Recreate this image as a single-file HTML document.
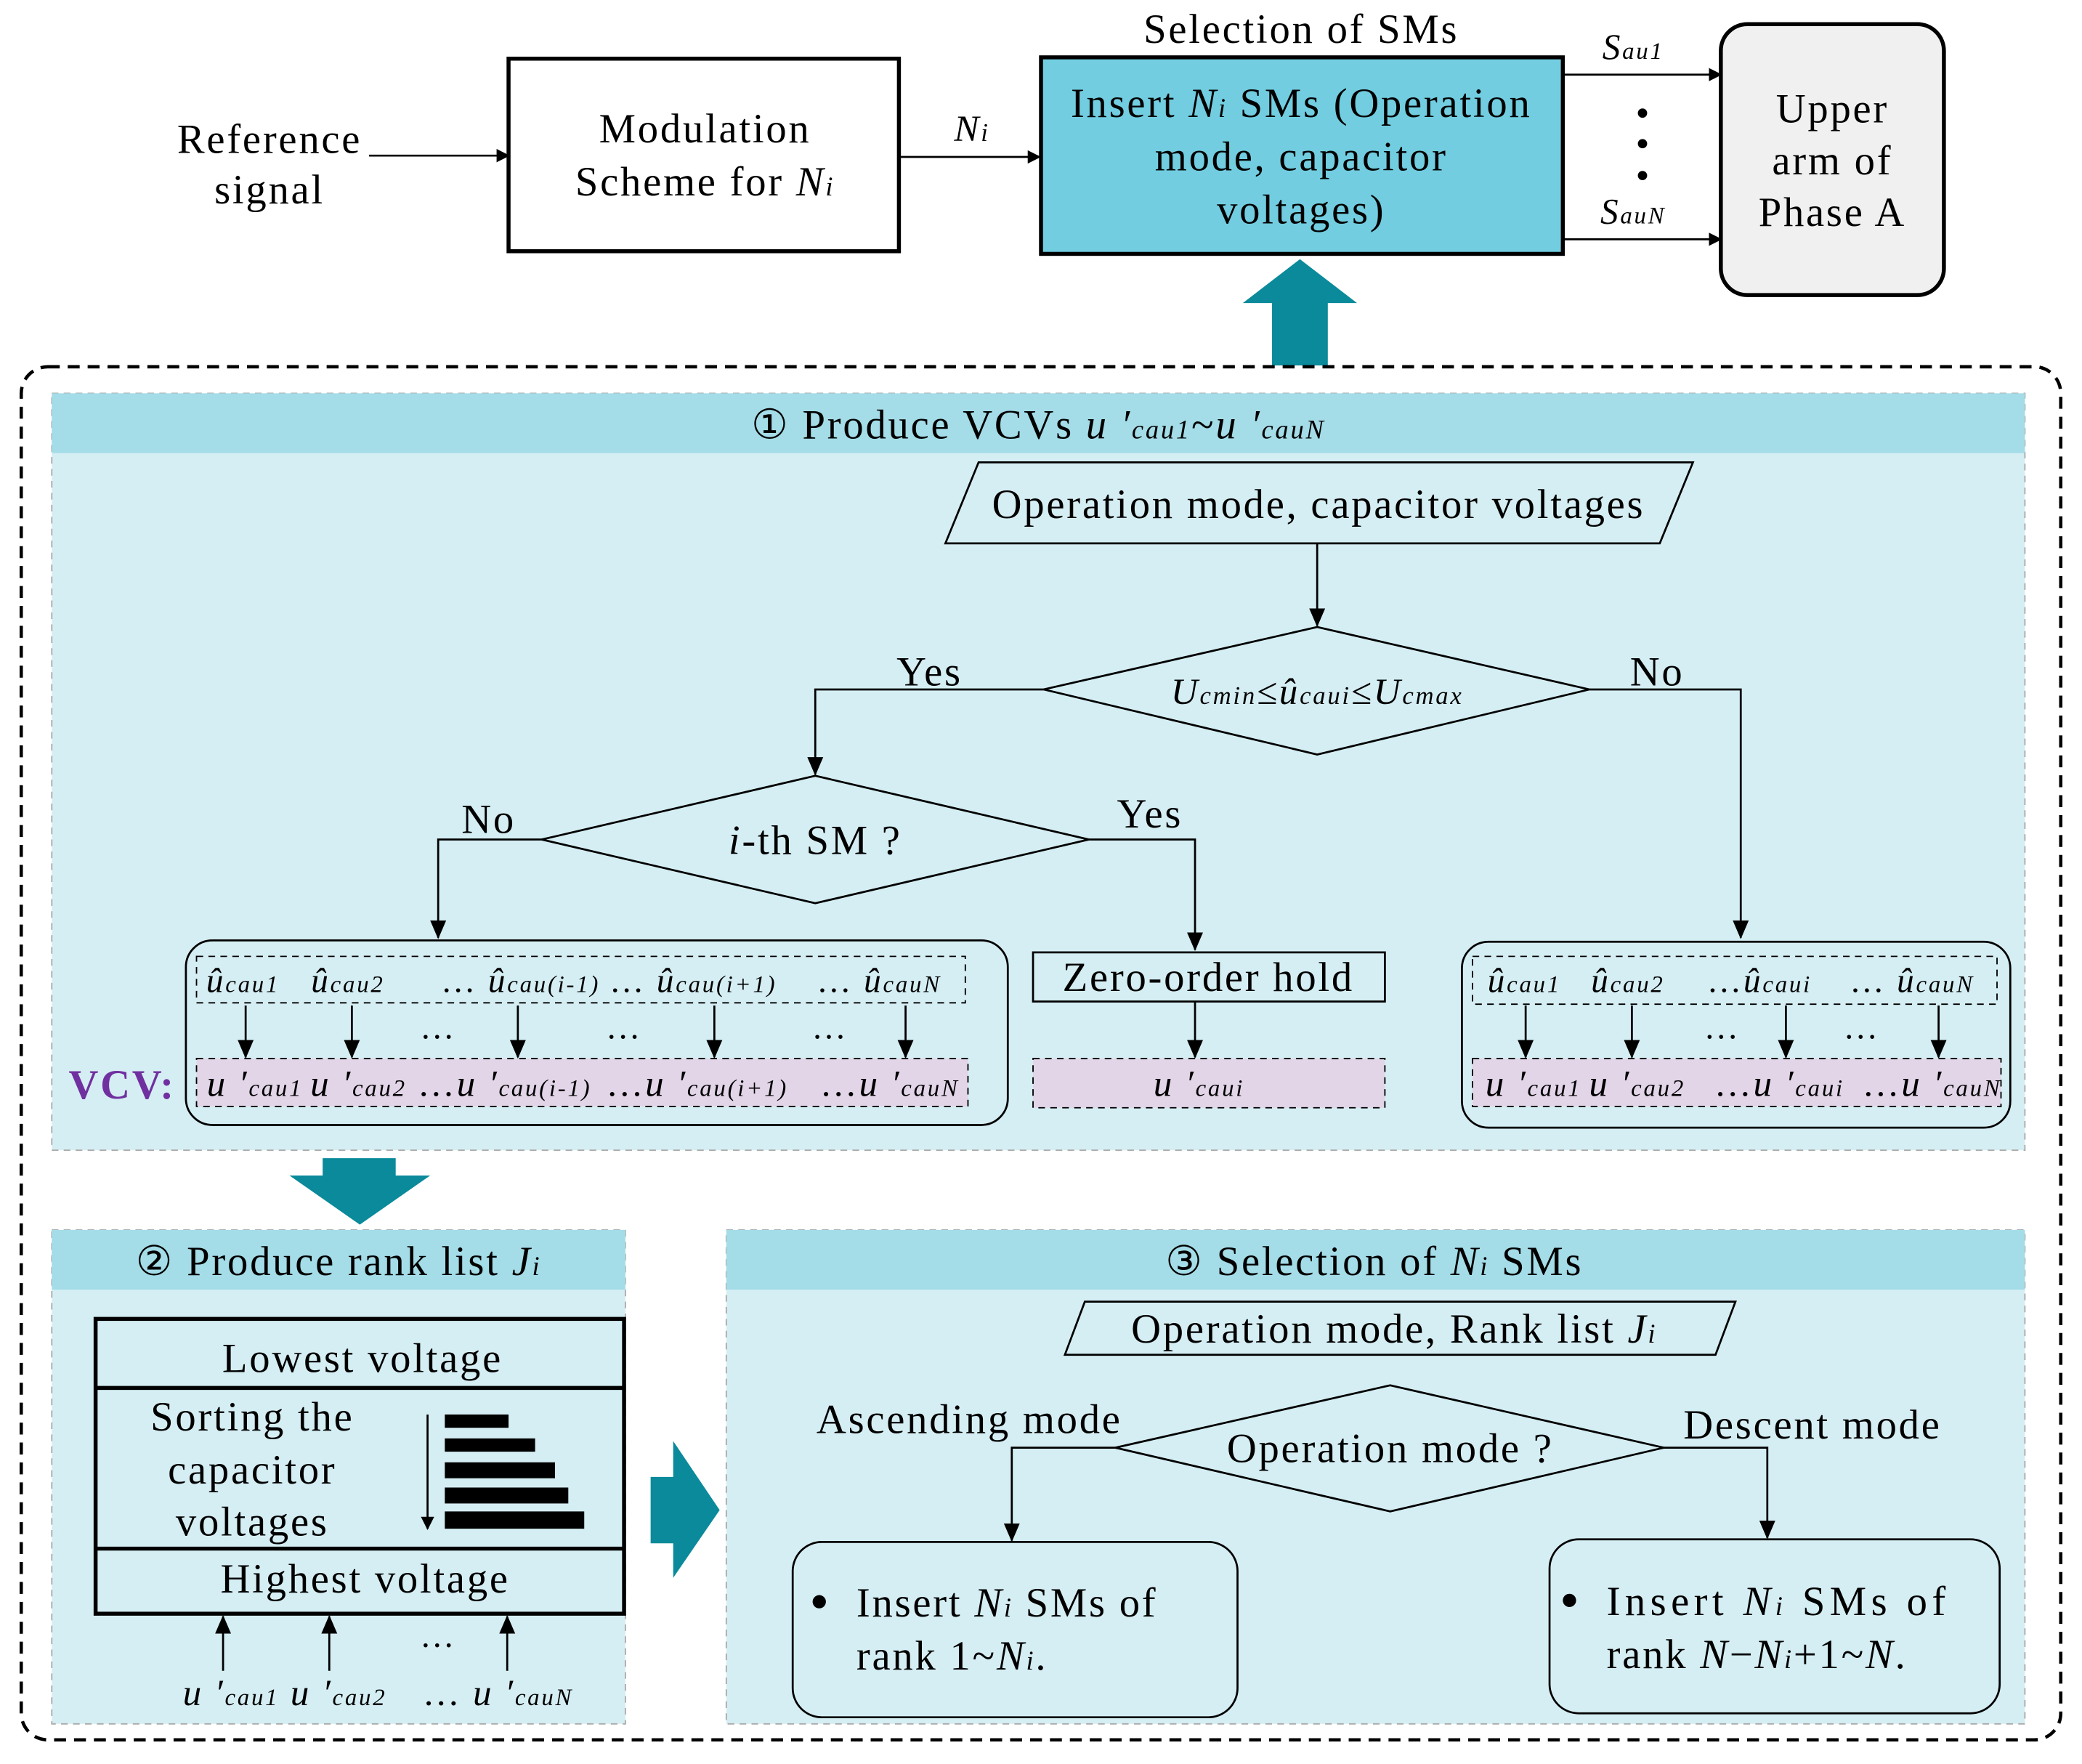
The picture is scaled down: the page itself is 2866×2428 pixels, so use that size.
<!DOCTYPE html>
<html><head><meta charset="utf-8"><style>
html,body{margin:0;padding:0;background:#fff}
svg{display:block}
text{font-family:"Liberation Serif",serif;fill:#000;letter-spacing:1.5px}
</style></head><body>
<svg width="2866" height="2428" viewBox="0 0 1568 1328" xmlns="http://www.w3.org/2000/svg">
<defs>
<marker id="a" markerWidth="10" markerHeight="10" refX="9" refY="5" orient="auto" markerUnits="userSpaceOnUse" viewBox="0 0 10 10"><path d="M0,0 L10,5 L0,10 Z" fill="#000"/></marker>
<marker id="b" markerWidth="14" markerHeight="14" refX="13" refY="7" orient="auto" markerUnits="userSpaceOnUse" viewBox="0 0 14 14"><path d="M0,1 L14,7 L0,13 Z" fill="#000"/></marker>
</defs>
<g font-size="31" text-anchor="middle">
<!-- top -->
<text x="203" y="115">Reference</text><text x="203" y="153">signal</text>
<line x1="278" y1="117" x2="383" y2="117" stroke="#000" stroke-width="1.5" marker-end="url(#a)"/>
<rect x="383" y="44" width="294" height="145" fill="#fff" stroke="#000" stroke-width="3"/>
<text x="531" y="107">Modulation</text>
<text x="531" y="147">Scheme for <tspan font-style="italic">N</tspan><tspan font-size="20" font-style="italic">i</tspan></text>
<line x1="677" y1="118" x2="783" y2="118" stroke="#000" stroke-width="1.5" marker-end="url(#a)"/>
<text x="732" y="106" font-style="italic" font-size="28">N<tspan font-size="19">i</tspan></text>
<text x="980" y="32">Selection of SMs</text>
<rect x="784" y="43" width="393" height="148" fill="#72cde0" stroke="#000" stroke-width="3"/>
<text x="980" y="88">Insert <tspan font-style="italic">N</tspan><tspan font-size="20" font-style="italic">i</tspan> SMs (Operation</text>
<text x="980" y="128">mode, capacitor</text>
<text x="980" y="168">voltages)</text>
<line x1="1177" y1="56" x2="1296" y2="56" stroke="#000" stroke-width="1.5" marker-end="url(#a)"/>
<line x1="1177" y1="180" x2="1296" y2="180" stroke="#000" stroke-width="1.5" marker-end="url(#a)"/>
<text x="1230" y="44" font-size="27" font-style="italic">S<tspan font-size="18">au1</tspan></text>
<text x="1230" y="168" font-size="27" font-style="italic">S<tspan font-size="18">auN</tspan></text>
<circle cx="1237" cy="85" r="3.5"/><circle cx="1237" cy="108" r="3.5"/><circle cx="1237" cy="132" r="3.5"/>
<rect x="1296" y="18" width="168" height="204" rx="20" fill="#f0f0f0" stroke="#000" stroke-width="3"/>
<text x="1380" y="92">Upper</text><text x="1380" y="131">arm of</text><text x="1380" y="170">Phase A</text>
<path d="M958,275 L958,228 L936,228 L979,195 L1022,228 L1000,228 L1000,275 Z" fill="#0a8a9a"/>
<rect x="16" y="276" width="1536" height="1034" rx="20" fill="none" stroke="#000" stroke-width="2.5" stroke-dasharray="9,6"/>

<!-- section 1 -->
<rect x="39" y="296" width="1486" height="570" fill="#d5eef3" stroke="#aaa" stroke-dasharray="5,4"/>
<rect x="39" y="296" width="1486" height="45" fill="#a4dce8"/>
<text x="782" y="330">① Produce VCVs <tspan font-style="italic">u ′</tspan><tspan font-style="italic" font-size="20">cau1</tspan>~<tspan font-style="italic">u ′</tspan><tspan font-style="italic" font-size="20">cauN</tspan></text>
<polygon points="737,348 1275,348 1250,409 712,409" fill="none" stroke="#000" stroke-width="1.5"/>
<text x="993" y="390">Operation mode, capacitor voltages</text>
<line x1="992" y1="409" x2="992" y2="471" stroke="#000" stroke-width="1.5" marker-end="url(#b)"/>
<polygon points="786,519 992,472 1197,519 992,568" fill="none" stroke="#000" stroke-width="1.5"/>
<text x="992" y="530" font-size="28" font-style="italic">U<tspan font-size="19">cmin</tspan>≤û<tspan font-size="19">caui</tspan>≤U<tspan font-size="19">cmax</tspan></text>
<polyline points="786,519 614,519 614,583" fill="none" stroke="#000" stroke-width="1.5" marker-end="url(#b)"/>
<text x="700" y="516">Yes</text>
<polyline points="1197,519 1311,519 1311,706" fill="none" stroke="#000" stroke-width="1.5" marker-end="url(#b)"/>
<text x="1248" y="516">No</text>
<polygon points="408,632 614,584 820,632 614,680" fill="none" stroke="#000" stroke-width="1.5"/>
<text x="614" y="643"><tspan font-style="italic">i</tspan>-th SM ?</text>
<polyline points="408,632 330,632 330,706" fill="none" stroke="#000" stroke-width="1.5" marker-end="url(#b)"/>
<text x="368" y="627">No</text>
<polyline points="820,632 900,632 900,715" fill="none" stroke="#000" stroke-width="1.5" marker-end="url(#b)"/>
<text x="866" y="623">Yes</text>

<rect x="140" y="708" width="619" height="139" rx="20" fill="none" stroke="#000" stroke-width="1.5"/>
<rect x="148" y="720" width="579" height="35" fill="none" stroke="#000" stroke-dasharray="5,4"/>
<g font-size="26" font-style="italic" style="letter-spacing:0.5px">
<text x="183" y="747">û<tspan font-size="18">cau1</tspan></text>
<text x="262" y="747">û<tspan font-size="18">cau2</tspan></text>
<text x="392" y="747"><tspan font-style="normal">… </tspan>û<tspan font-size="18">cau(i-1)</tspan></text>
<text x="522" y="747"><tspan font-style="normal">… </tspan>û<tspan font-size="18">cau(i+1)</tspan></text>
<text x="662" y="747"><tspan font-style="normal">… </tspan>û<tspan font-size="18">cauN</tspan></text>
</g>
<g stroke="#000" stroke-width="1.5">
<line x1="185" y1="757" x2="185" y2="796" marker-end="url(#b)"/>
<line x1="265" y1="757" x2="265" y2="796" marker-end="url(#b)"/>
<line x1="390" y1="757" x2="390" y2="796" marker-end="url(#b)"/>
<line x1="538" y1="757" x2="538" y2="796" marker-end="url(#b)"/>
<line x1="682" y1="757" x2="682" y2="796" marker-end="url(#b)"/>
</g>
<text x="330" y="782" font-size="26">…</text><text x="470" y="782" font-size="26">…</text><text x="625" y="782" font-size="26">…</text>
<rect x="148" y="797" width="581" height="36" fill="#e2d5e8" stroke="#000" stroke-dasharray="5,4"/>
<g font-size="28" font-style="italic" style="letter-spacing:0.5px">
<text x="192" y="825">u ′<tspan font-size="18">cau1</tspan></text>
<text x="270" y="825">u ′<tspan font-size="18">cau2</tspan></text>
<text x="380" y="825"><tspan font-style="normal">…</tspan>u ′<tspan font-size="18">cau(i-1)</tspan></text>
<text x="525" y="825"><tspan font-style="normal">…</tspan>u ′<tspan font-size="18">cau(i+1)</tspan></text>
<text x="670" y="825"><tspan font-style="normal">…</tspan>u ′<tspan font-size="18">cauN</tspan></text>
</g>
<text x="92" y="827" style="fill:#7030a0" font-weight="bold">VCV:</text>

<rect x="778" y="717" width="265" height="37" fill="none" stroke="#000" stroke-width="1.5"/>
<text x="910" y="746">Zero-order hold</text>
<line x1="900" y1="754" x2="900" y2="796" stroke="#000" stroke-width="1.5" marker-end="url(#b)"/>
<rect x="778" y="797" width="265" height="37" fill="#e2d5e8" stroke="#000" stroke-dasharray="5,4"/>
<text x="903" y="825" font-size="28" font-style="italic">u ′<tspan font-size="18">caui</tspan></text>

<rect x="1101" y="709" width="413" height="140" rx="20" fill="none" stroke="#000" stroke-width="1.5"/>
<rect x="1109" y="720" width="395" height="36" fill="none" stroke="#000" stroke-dasharray="5,4"/>
<g font-size="26" font-style="italic" style="letter-spacing:0.5px">
<text x="1148" y="747">û<tspan font-size="18">cau1</tspan></text>
<text x="1226" y="747">û<tspan font-size="18">cau2</tspan></text>
<text x="1325" y="747"><tspan font-style="normal">…</tspan>û<tspan font-size="18">caui</tspan></text>
<text x="1440" y="747"><tspan font-style="normal">… </tspan>û<tspan font-size="18">cauN</tspan></text>
</g>
<g stroke="#000" stroke-width="1.5">
<line x1="1149" y1="757" x2="1149" y2="796" marker-end="url(#b)"/>
<line x1="1229" y1="757" x2="1229" y2="796" marker-end="url(#b)"/>
<line x1="1345" y1="757" x2="1345" y2="796" marker-end="url(#b)"/>
<line x1="1460" y1="757" x2="1460" y2="796" marker-end="url(#b)"/>
</g>
<text x="1297" y="782" font-size="26">…</text><text x="1402" y="782" font-size="26">…</text>
<rect x="1109" y="797" width="398" height="36" fill="#e2d5e8" stroke="#000" stroke-dasharray="5,4"/>
<g font-size="28" font-style="italic" style="letter-spacing:0.5px">
<text x="1155" y="825">u ′<tspan font-size="18">cau1</tspan></text>
<text x="1233" y="825">u ′<tspan font-size="18">cau2</tspan></text>
<text x="1340" y="825"><tspan font-style="normal">…</tspan>u ′<tspan font-size="18">caui</tspan></text>
<text x="1455" y="825"><tspan font-style="normal">…</tspan>u ′<tspan font-size="18">cauN</tspan></text>
</g>

<path d="M243,872 L298,872 L298,885 L324,885 L271,922 L218,885 L243,885 Z" fill="#0a8a9a"/>

<!-- section 2 -->
<rect x="39" y="926" width="432" height="372" fill="#d5eef3" stroke="#aaa" stroke-dasharray="5,4"/>
<rect x="39" y="926" width="432" height="45" fill="#a4dce8"/>
<text x="255" y="960">② Produce rank list <tspan font-style="italic">J</tspan><tspan font-style="italic" font-size="20">i</tspan></text>
<rect x="72" y="993" width="398" height="222" fill="none" stroke="#000" stroke-width="3"/>
<line x1="72" y1="1045" x2="470" y2="1045" stroke="#000" stroke-width="3"/>
<line x1="72" y1="1166" x2="470" y2="1166" stroke="#000" stroke-width="3"/>
<text x="273" y="1033">Lowest voltage</text>
<text x="190" y="1077">Sorting the</text><text x="190" y="1117">capacitor</text><text x="190" y="1156">voltages</text>
<text x="275" y="1199">Highest voltage</text>
<rect x="335" y="1065" width="48" height="10"/><rect x="335" y="1083" width="68" height="10"/>
<rect x="335" y="1101" width="83" height="12"/><rect x="335" y="1120" width="93" height="12"/>
<rect x="335" y="1138" width="105" height="13"/>
<line x1="322" y1="1065" x2="322" y2="1151" stroke="#000" stroke-width="1.5" marker-end="url(#a)"/>
<g stroke="#000" stroke-width="1.5">
<line x1="168" y1="1258" x2="168" y2="1217" marker-end="url(#b)"/>
<line x1="248" y1="1258" x2="248" y2="1217" marker-end="url(#b)"/>
<line x1="382" y1="1258" x2="382" y2="1217" marker-end="url(#b)"/>
</g>
<text x="330" y="1240" font-size="26">…</text>
<g font-size="28" font-style="italic" style="letter-spacing:0.5px">
<text x="174" y="1284">u ′<tspan font-size="18">cau1</tspan></text>
<text x="255" y="1284">u ′<tspan font-size="18">cau2</tspan></text>
<text x="375" y="1284"><tspan font-style="normal">… </tspan>u ′<tspan font-size="18">cauN</tspan></text>
</g>

<path d="M490,1112 L507,1112 L507,1085 L542,1137 L507,1188 L507,1162 L490,1162 Z" fill="#0a8a9a"/>

<!-- section 3 -->
<rect x="547" y="926" width="978" height="372" fill="#d5eef3" stroke="#aaa" stroke-dasharray="5,4"/>
<rect x="547" y="926" width="978" height="45" fill="#a4dce8"/>
<text x="1035" y="960">③ Selection of <tspan font-style="italic">N</tspan><tspan font-style="italic" font-size="20">i</tspan> SMs</text>
<polygon points="817,980 1307,980 1292,1020 802,1020" fill="none" stroke="#000" stroke-width="1.5"/>
<text x="1050" y="1011">Operation mode, Rank list <tspan font-style="italic">J</tspan><tspan font-style="italic" font-size="20">i</tspan></text>
<polygon points="840,1090 1047,1043 1253,1090 1047,1138" fill="none" stroke="#000" stroke-width="1.5"/>
<text x="1047" y="1101">Operation mode ?</text>
<polyline points="840,1090 762,1090 762,1160" fill="none" stroke="#000" stroke-width="1.5" marker-end="url(#b)"/>
<text x="730" y="1079">Ascending mode</text>
<polyline points="1253,1090 1331,1090 1331,1158" fill="none" stroke="#000" stroke-width="1.5" marker-end="url(#b)"/>
<text x="1365" y="1083">Descent mode</text>
<rect x="597" y="1161" width="335" height="132" rx="22" fill="none" stroke="#000" stroke-width="1.5"/>
<circle cx="617" cy="1206" r="5"/>
<text x="645" y="1217" text-anchor="start">Insert <tspan font-style="italic">N</tspan><tspan font-style="italic" font-size="20">i</tspan> SMs of</text>
<text x="645" y="1257" text-anchor="start">rank 1~<tspan font-style="italic">N</tspan><tspan font-style="italic" font-size="20">i</tspan>.</text>
<rect x="1167" y="1159" width="339" height="131" rx="22" fill="none" stroke="#000" stroke-width="1.5"/>
<circle cx="1182" cy="1205" r="5"/>
<text x="1210" y="1216" text-anchor="start" style="letter-spacing:3.5px">Insert <tspan font-style="italic">N</tspan><tspan font-style="italic" font-size="20">i</tspan> SMs of</text>
<text x="1210" y="1256" text-anchor="start">rank <tspan font-style="italic">N</tspan>−<tspan font-style="italic">N</tspan><tspan font-style="italic" font-size="20">i</tspan>+1~<tspan font-style="italic">N</tspan>.</text>
</g>
</svg>
</body></html>
